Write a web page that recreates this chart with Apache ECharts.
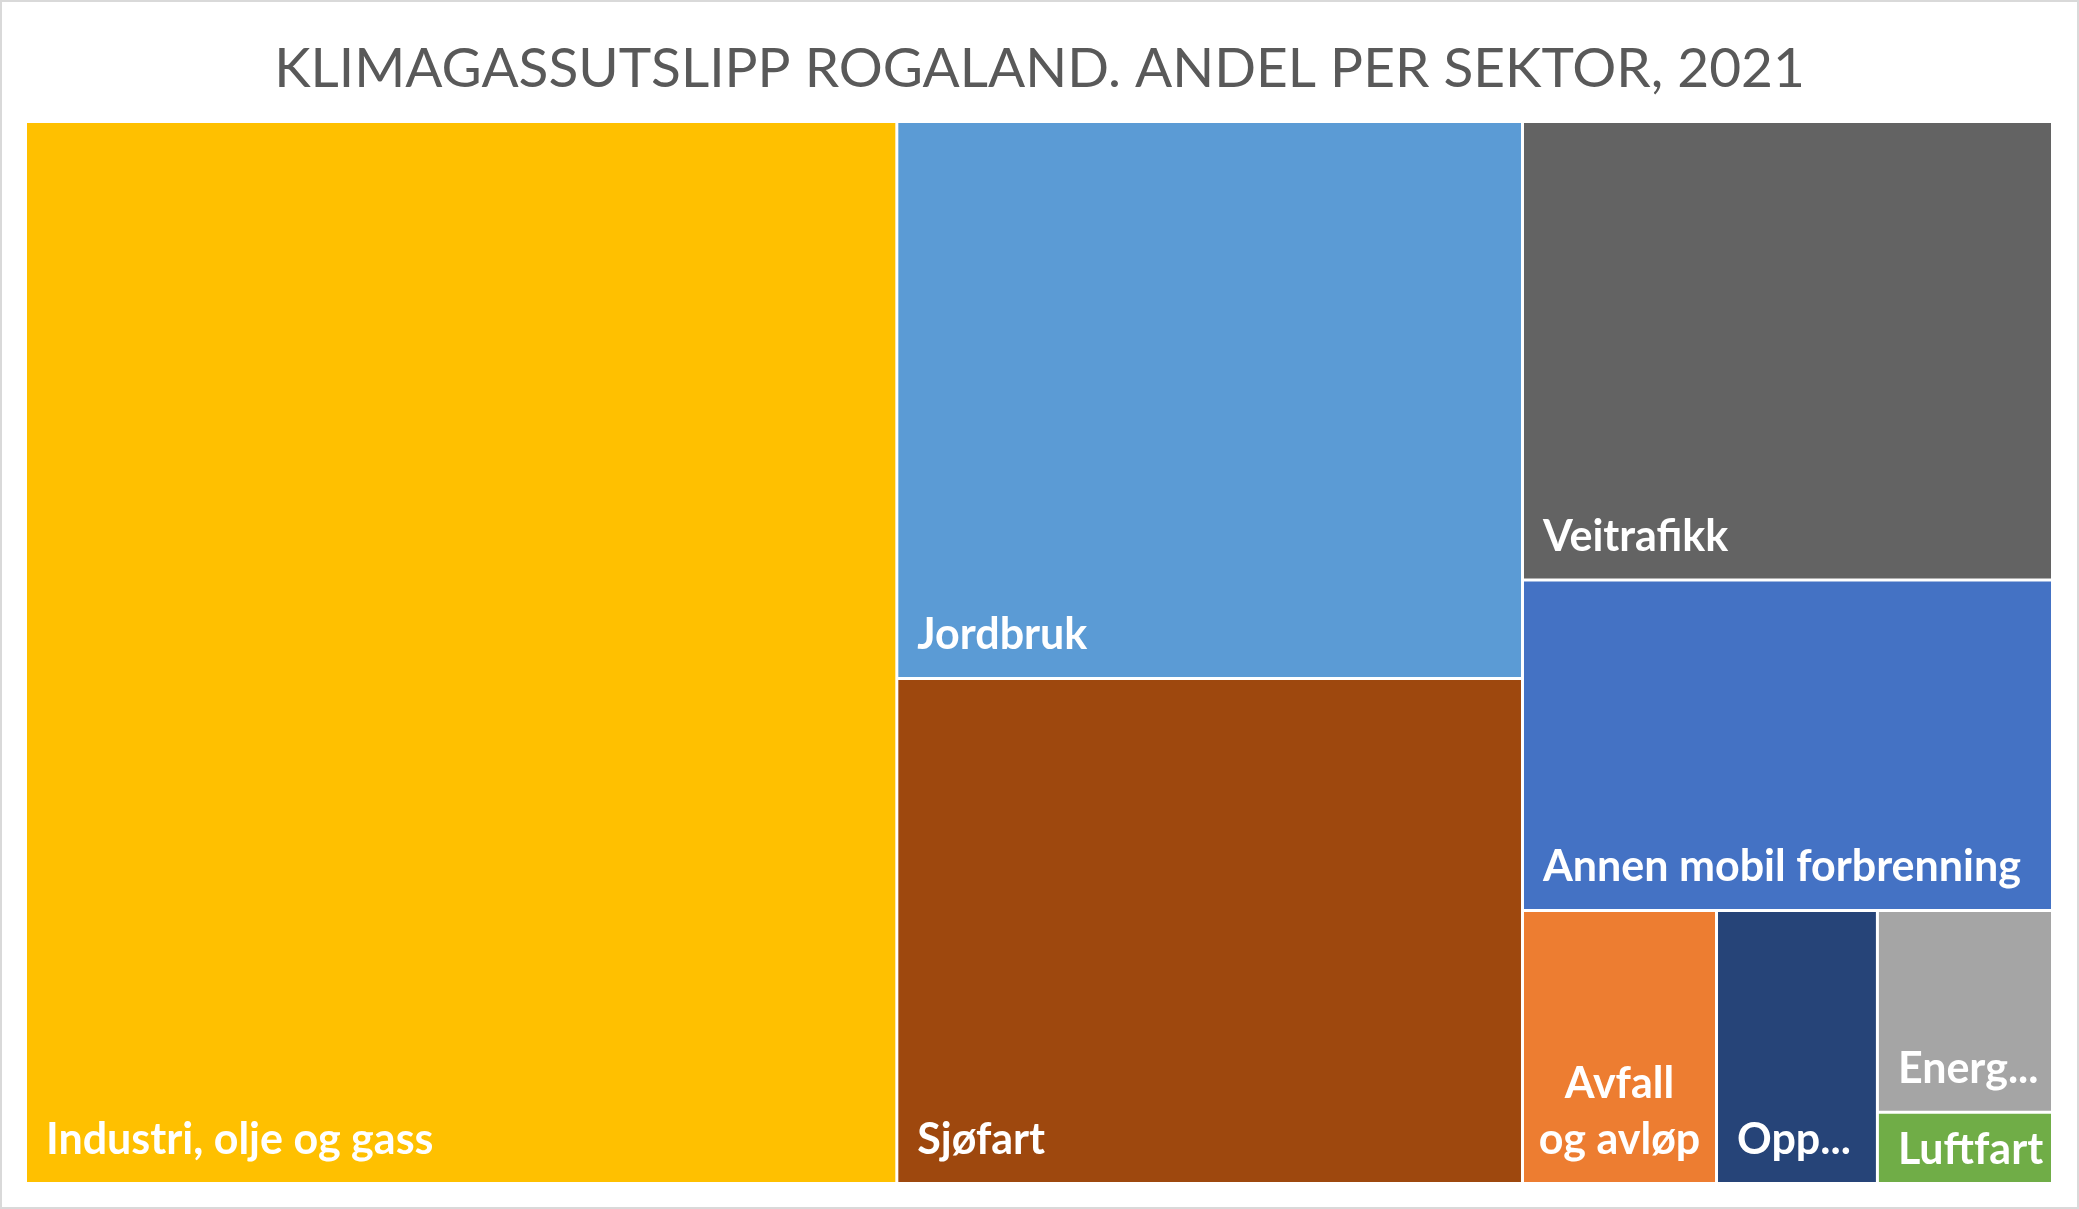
<!DOCTYPE html>
<html>
<head>
<meta charset="utf-8">
<script src="https://cdn.jsdelivr.net/npm/echarts@6/dist/echarts.min.js"></script>
<style>
html,body{margin:0;padding:0;background:#fff;}
#chart{width:2079px;height:1209px;}
</style>
</head>
<body>
<div id="chart"></div>
<script>
// Sectors (category names), their share of emissions (%), and display labels
const sectors = ['Industri, olje og gass', 'Jordbruk', 'Sjøfart', 'Veitrafikk', 'Annen mobil forbrenning', 'Avfall og avløp', 'Oppvarming', 'Energiforsyning', 'Luftfart'];
const shares = [42.99, 16.19, 14.68, 11.29, 8.14, 2.46, 2.04, 1.64, 0.58];
const shownLabels = ['Industri, olje og gass', 'Jordbruk', 'Sjøfart', 'Veitrafikk', 'Annen mobil forbrenning', 'Avfall\nog avløp', 'Opp...', 'Energ...', 'Luftfart'];
const colors = ['#FFC000', '#5B9BD5', '#9E480E', '#636363', '#4472C4', '#ED7D31', '#264478', '#A5A5A5', '#70AD47'];
const titleText = 'KLIMAGASSUTSLIPP ROGALAND. ANDEL PER SEKTOR, 2021';

const chart = echarts.init(document.getElementById('chart'), null, {renderer: 'canvas'});

const data = sectors.map(function (name, i) {
  const item = {
    name: name,
    value: shares[i],
    itemStyle: {color: colors[i]},
    label: {formatter: shownLabels[i]}
  };
  if (name === 'Avfall og avløp') {
    item.label.position = 'insideBottom';
    item.label.align = 'center';
    item.label.lineHeight = 56;
    item.label.offset = [0, 6];
  }
  if (name === 'Luftfart') {
    item.label.offset = [0, 10];
  }
  return item;
});

chart.setOption({
  animation: false,
  backgroundColor: '#ffffff',
  title: {
    text: titleText,
    left: 'center',
    top: 37,
    textStyle: {
      fontFamily: 'Lato',
      fontWeight: 'normal',
      fontSize: 55,
      color: '#595959'
    }
  },
  graphic: [{
    type: 'rect',
    shape: {x: 1, y: 1, width: 2077, height: 1207},
    style: {fill: null, stroke: '#D9D9D9', lineWidth: 2},
    silent: true
  }],
  series: [{
    type: 'treemap',
    left: 27,
    top: 123,
    right: 28,
    bottom: 27,
    roam: false,
    nodeClick: false,
    squareRatio: 1,
    sort: 'desc',
    breadcrumb: {show: false},
    visibleMin: 0,
    label: {
      show: true,
      position: 'insideBottomLeft',
      distance: 19,
      padding: [0, 0, 1, 0],
      color: '#ffffff',
      fontFamily: 'Lato',
      fontWeight: 'bold',
      fontSize: 43,
      overflow: 'none'
    },
    upperLabel: {show: false},
    itemStyle: {borderWidth: 0, gapWidth: 0},
    levels: [
      {itemStyle: {borderWidth: 0, gapWidth: 3, borderColor: '#ffffff'}},
      {itemStyle: {borderWidth: 0}}
    ],
    data: data
  }]
});
</script>
</body>
</html>
